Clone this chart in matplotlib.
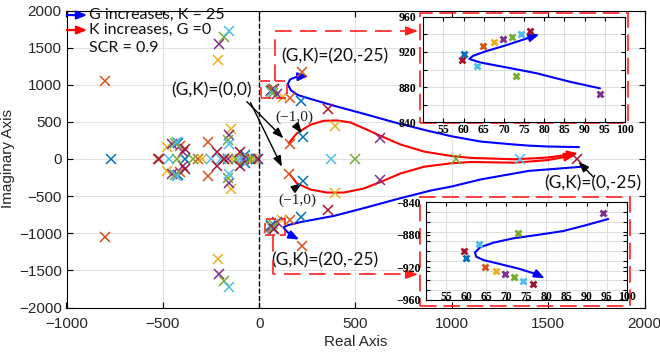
import numpy as np
import matplotlib
matplotlib.use('Agg')
import matplotlib.pyplot as plt
from matplotlib.patches import Rectangle

# ---------------- data ----------------
colors = ['#0072BD', '#D95319', '#EDB120', '#7E2F8E', '#77AC30', '#4DBEEE', '#A2142F']

poles_c0 = [-768+0j, -419+220j, -419-220j, -384+0j, -75+55j, -75-55j, -60+0j, -15+0j,
            217+785j, 217-785j, 230+300j, 230-290j]
poles_c1 = [-800+1050j, -800-1050j, -525+0j, -410+175j, -410-175j, -315+0j, -266+225j, -266-225j,
            -180+0j, -40+0j, 158+203j, 157-202j, 161+823j, 161-823j, 222+1175j, 222-1175j]
poles_c2 = [-480+168j, -480-168j, -297+0j, -147+400j, -147-400j, -140+0j, -30+0j,
            -216+1340j, -216-1345j, 122+840j, 118-822j, 396+450j, 396-457j]
poles_c3 = [-453+202j, -453-202j, -393+98j, -393-98j, -160+0j, -80+0j, -159+320j, -159-323j,
            -208+1549j, -208-1549j, 627+285j, 627-285j]
poles_c4 = [-436+222j, -436-222j, -427+0j, -341+0j, -164+260j, -164-262j, -120+0j, -50+0j,
            -185+1640j, -185-1642j, 495+0j, 1024+0j]
poles_c5 = [-470+0j, -425+225j, -425-225j, -251+0j, -200+0j, -100+0j, -10+0j, -159+205j, -159-205j,
            -156+1728j, -156-1728j, 375+0j, 1355+0j]
poles_c6 = [-522+0j, -384+130j, -384-130j, -220+90j, -220-90j, -100+100j, -100-100j, -180+0j, -5+0j,
            356+680j, 355-687j, 1650+0j]
poles_by_color = [poles_c0, poles_c1, poles_c2, poles_c3, poles_c4, poles_c5, poles_c6]

# zoomed clusters (inset values)
up_x = [76.5, 74.2, 72.1, 69.7, 67.5, 64.7, 60.1, 59.7, 63.2, 73.0, 93.8]
up_y = [943.7, 940.3, 937.3, 934.3, 930.9, 926.4, 917.6, 910.8, 903.6, 892.6, 871.8]
up_c = [6, 5, 4, 3, 2, 1, 0, 6, 5, 4, 3]
lo_x = [94.0, 72.8, 63.2, 59.5, 60.0, 64.7, 67.4, 69.7, 71.9, 74.2, 76.6]
lo_y = [-852.8, -877.3, -891.2, -899.8, -908.1, -919.1, -924.4, -928.5, -932.1, -936.3, -940.0]
lo_c = [3, 4, 5, 6, 0, 1, 2, 3, 4, 5, 6]

# trajectories (main plot)
blue_up_x = [1660, 1500, 1400, 1300, 1150, 1000, 860, 700, 530, 390, 270, 200, 165, 148, 161, 196, 256]
blue_up_y = [160, 168, 180, 200, 235, 305, 390, 495, 618, 716, 806, 862, 925, 1006, 1073, 1108, 1120]
blue_lo_x = [1670, 1500, 1400, 1150, 1000, 890, 730, 560, 390, 214, 150, 126, 144, 178, 208]
blue_lo_y = [-105, -140, -160, -275, -370, -425, -530, -650, -765, -850, -890, -920, -979, -1046, -1085]
red_up_x = [153, 196, 266, 335, 405, 474, 561, 640, 734, 856, 995, 1100, 1325, 1500, 1655]
red_up_y = [213, 348, 461, 515, 519, 492, 393, 300, 195, 100, 41, 15, -4, 20, 77]
red_lo_x = [158, 196, 266, 352, 439, 543, 630, 734, 856, 995, 1100, 1325, 1500, 1640]
red_lo_y = [-203, -329, -411, -452, -452, -397, -310, -194, -104, -58, -40, -50, -14, 54]

# trajectories (insets)
in_up_x = [93.8, 86.4, 78.1, 69.9, 64.1, 61.4, 62.4, 65.7, 70.7, 75.7, 78.8]
in_up_y = [878.6, 886, 895.7, 903, 908, 912, 915.7, 921, 927.8, 935.4, 940]
in_lo_x = [95.4, 90.0, 84.2, 77.6, 71.8, 66.8, 63.5, 62.2, 62.5, 64.3, 68.4, 73.4, 77.6, 79.6]
in_lo_y = [-860.5, -867.9, -875.3, -880.2, -884.2, -889.6, -895.3, -901.4, -906.8, -910.9,
           -915.8, -921.9, -928.5, -933.4]

x_ticks = [-1000, -500, 0, 500, 1000, 1500, 2000]
y_ticks = [-2000, -1500, -1000, -500, 0, 500, 1000, 1500, 2000]
in_x_ticks = [55, 60, 65, 70, 75, 80, 85, 90, 95, 100]
in_up_yticks = [840, 860, 880, 900, 920, 940, 960]
in_up_ylabels = ['840', '', '880', '', '920', '', '960']
in_lo_yticks = [-960, -920, -880, -840]
in_lo_yminor = [-948, -936, -924, -912, -900, -888, -876, -864, -852]

# ---------------- figure ----------------
W, H = 660, 353
fig = plt.figure(figsize=(W/100, H/100), dpi=100)
ax = fig.add_axes([66.5/W, 1-307.5/H, 578/W, 297/H])
ax.set_xlim(-1000, 2000)
ax.set_ylim(-2000, 2000)
ax.set_xticks(x_ticks)
ax.set_yticks(y_ticks)
ax.grid(True, color='#e2e2e2', lw=0.8)
ax.set_axisbelow(True)
ax.tick_params(direction='in', top=True, right=True, labelsize=11, labelcolor='#262626', length=4)
ax.tick_params(axis='x', pad=7)
ax.tick_params(axis='y', pad=3.5)
for lab in ax.get_xticklabels() + ax.get_yticklabels():
    lab.set_family('Liberation Sans')
ax.set_xlabel('Real Axis', fontsize=11, family='Liberation Sans', color='#262626', labelpad=3)
ax.set_ylabel('Imaginary Axis', fontsize=11, family='Liberation Sans', color='#262626', labelpad=3)

ax.axvline(0, color='black', ls='--', lw=1, zorder=2)

HEAD = '-|>,head_length=0.55,head_width=0.22'

def arrow_line(a, xs, ys, color, lw=1.6, ms=12):
    a.plot(xs[:-1], ys[:-1], color=color, lw=lw, solid_capstyle='round', zorder=3)
    a.annotate('', xy=(xs[-1], ys[-1]), xytext=(xs[-2], ys[-2]),
               arrowprops=dict(arrowstyle=HEAD, color=color,
                               lw=lw, shrinkA=0, shrinkB=0, mutation_scale=ms), zorder=3)

arrow_line(ax, blue_up_x, blue_up_y, 'blue', lw=1.5, ms=11)
arrow_line(ax, blue_lo_x, blue_lo_y, 'blue', lw=1.5, ms=11)
arrow_line(ax, red_up_x, red_up_y, 'red', lw=1.5, ms=11)
arrow_line(ax, red_lo_x, red_lo_y, 'red', lw=1.5, ms=11)

for ci, pl in enumerate(poles_by_color):
    pl = np.array(pl)
    ax.plot(pl.real, pl.imag, 'x', color=colors[ci], ms=7.5, mew=1.1, zorder=4)
for xs, ys, cs in [(up_x, up_y, up_c), (lo_x, lo_y, lo_c)]:
    for x, y, c in zip(xs, ys, cs):
        ax.plot(x, y, 'x', color=colors[c], ms=7.5, mew=1.1, zorder=4)

# legend-like annotations
for yv, col in [(1939, 'blue'), (1737, 'red')]:
    ax.annotate('', xy=(-892, yv), xytext=(-998, yv),
                arrowprops=dict(arrowstyle=HEAD, color=col, lw=1.6,
                                shrinkA=0, shrinkB=0, mutation_scale=11))
tfont = dict(family='Lato', fontsize=11.5, color='#111111')
ax.text(-885, 1939, 'G increases, K = 25', va='center', ha='left', **tfont)
ax.text(-885, 1737, 'K increases, G =0', va='center', ha='left', **tfont)
ax.text(-885, 1495, 'SCR = 0.9', va='center', ha='left', **tfont)

afont = dict(family='Lato', fontsize=12.5, color='#111111')
ax.text(-246, 929, '(G,K)=(0,0)', va='center', ha='center', **afont)
ax.text(394, 1378, '(G,K)=(20,-25)', va='center', ha='center', **afont)
ax.text(342, -1360, '(G,K)=(20,-25)', va='center', ha='center', **afont)
ax.text(1731, -327, '(G,K)=(0,-25)', va='center', ha='center', **afont)
sfont = dict(family='Liberation Serif', fontsize=11, color='#222222')
ax.text(182, 566, '(\u22121,0)', va='center', ha='center', **sfont)
ax.text(196, -552, '(\u22121,0)', va='center', ha='center', **sfont)

bk = dict(arrowstyle='-|>,head_length=0.8,head_width=0.3', color='black', lw=1.0,
          shrinkA=0, shrinkB=0, mutation_scale=8)
ax.annotate('', xy=(126, 279), xytext=(-64, 772), arrowprops=bk)
ax.annotate('', xy=(118, -104), xytext=(-45, 760), arrowprops=bk)
ax.annotate('', xy=(222, 346), xytext=(196, 435), arrowprops=bk)
ax.annotate('', xy=(222, -327), xytext=(178, -408), arrowprops=bk)
ax.annotate('', xy=(1657, -36), xytext=(1733, -238), arrowprops=bk)

# dashed red boxes and connectors
rd = dict(color='#ff2020', lw=1.2)
ax.add_patch(Rectangle((10, 826), 134, 224, fill=False, ls=(0, (6, 3)), zorder=5, **rd))
ax.add_patch(Rectangle((31, -1024), 104, 212, fill=False, ls=(0, (6, 3)), zorder=5, **rd))
ax.add_patch(Rectangle((835, 481), 1081, 1481, fill=False, ls=(0, (10, 4)), zorder=5, **rd))
ax.add_patch(Rectangle((835, -1980), 1090, 1464, fill=False, ls=(0, (10, 4)), zorder=5, **rd))
ax.plot([83, 83, 780], [1050, 1724, 1724], ls=(0, (10, 5)), zorder=5, **rd)
ax.plot([71, 71, 780], [-1024, -1553, -1553], ls=(0, (10, 5)), zorder=5, **rd)
ra = dict(arrowstyle='-|>,head_length=0.8,head_width=0.3', color='#ff2020', lw=1.2,
          shrinkA=0, shrinkB=0, mutation_scale=9)
ax.annotate('', xy=(825, 1724), xytext=(760, 1724), arrowprops=ra)
ax.annotate('', xy=(825, -1553), xytext=(760, -1553), arrowprops=ra)

# ---------------- insets ----------------
ifont = {'family': 'Liberation Serif', 'weight': 'bold', 'size': 8.5}

ax1 = fig.add_axes([423.3/W, 1-122.3/H, 201.7/W, 105.6/H])
ax1.set_xlim(50, 100)
ax1.set_ylim(840, 960)
ax1.set_xticks(in_x_ticks)
ax1.set_yticks(in_up_yticks)
ax1.set_yticklabels(in_up_ylabels)
ax1.grid(True, color='#dcdcdc', lw=0.7)
ax1.set_axisbelow(True)
ax1.tick_params(direction='in', top=True, right=True, length=3, width=0.8)
ax1.tick_params(axis='x', pad=1.5)
ax1.tick_params(axis='y', pad=5)
for lab in ax1.get_xticklabels() + ax1.get_yticklabels():
    lab.set_fontproperties(ifont)
arrow_line(ax1, in_up_x, in_up_y, 'blue', lw=1.5, ms=11)
for x, y, c in zip(up_x, up_y, up_c):
    ax1.plot(x, y, 'x', color=colors[c], ms=4, mew=2.0, zorder=4)

ax2 = fig.add_axes([426/W, 1-300/H, 200.7/W, 97.7/H])
ax2.set_xlim(50, 100)
ax2.set_ylim(-960, -840)
ax2.set_xticks(in_x_ticks)
ax2.set_yticks(in_lo_yticks)
ax2.set_yticks(in_lo_yminor, minor=True)
ax2.xaxis.grid(True, which='major', color='#dcdcdc', lw=0.7)
ax2.yaxis.grid(True, which='minor', color='#dcdcdc', lw=0.7)
ax2.set_axisbelow(True)
ax2.tick_params(which='both', direction='in', top=True, right=True, length=3, width=0.8)
ax2.tick_params(axis='x', pad=-6.5)
ax2.tick_params(axis='y', pad=4)
for lab in ax2.get_xticklabels() + ax2.get_yticklabels():
    lab.set_fontproperties(ifont)
arrow_line(ax2, in_lo_x, in_lo_y, 'blue', lw=1.5, ms=11)
for x, y, c in zip(lo_x, lo_y, lo_c):
    ax2.plot(x, y, 'x', color=colors[c], ms=4, mew=2.0, zorder=4)

fig.savefig('out.png', dpi=100)
